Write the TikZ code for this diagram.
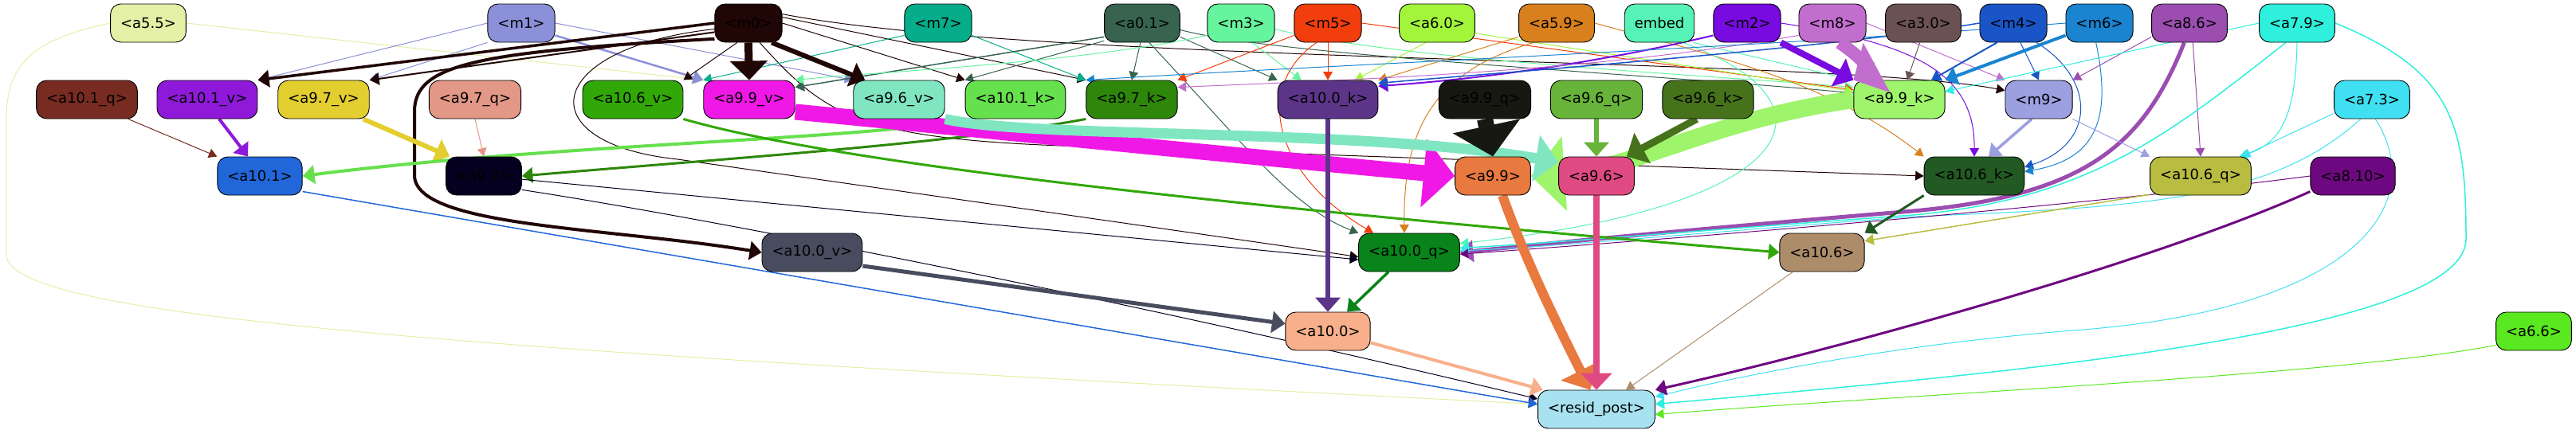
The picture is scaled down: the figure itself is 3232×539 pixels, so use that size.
\documentclass[tikz,border=0pt]{standalone}
\usepackage{fontspec}
\setmainfont{DejaVu Sans}
\usetikzlibrary{arrows.meta}
\pgfdeclarelayer{bg}
\pgfsetlayers{bg,main}
\definecolor{cA55}{HTML}{E3F0A5}
\definecolor{cM1}{HTML}{8C90D8}
\definecolor{cM0}{HTML}{200604}
\definecolor{cM7}{HTML}{06AD8A}
\definecolor{cA01}{HTML}{37634F}
\definecolor{cM3}{HTML}{66F59E}
\definecolor{cM5}{HTML}{F23D0D}
\definecolor{cA60}{HTML}{A3F53C}
\definecolor{cA59}{HTML}{D9801E}
\definecolor{cEmbed}{HTML}{57F2B5}
\definecolor{cM2}{HTML}{770BE0}
\definecolor{cM8}{HTML}{C26ECF}
\definecolor{cA30}{HTML}{6B5252}
\definecolor{cM4}{HTML}{1A55C7}
\definecolor{cM6}{HTML}{1A84D1}
\definecolor{cA86}{HTML}{9B4DB0}
\definecolor{cA79}{HTML}{2EF0DC}
\definecolor{cA101q}{HTML}{772B21}
\definecolor{cA101v}{HTML}{8F19D9}
\definecolor{cA97v}{HTML}{E3CE30}
\definecolor{cA97q}{HTML}{E29787}
\definecolor{cA106v}{HTML}{31A808}
\definecolor{cA99v}{HTML}{F018E6}
\definecolor{cA96v}{HTML}{80E6C2}
\definecolor{cA101k}{HTML}{66E04D}
\definecolor{cA97k}{HTML}{2E870A}
\definecolor{cA100k}{HTML}{5C3589}
\definecolor{cA99q}{HTML}{171811}
\definecolor{cA96q}{HTML}{68B43A}
\definecolor{cA96k}{HTML}{46721B}
\definecolor{cA99k}{HTML}{9EF46B}
\definecolor{cM9}{HTML}{9C9FE0}
\definecolor{cA73}{HTML}{40E0F2}
\definecolor{cA101}{HTML}{2167D9}
\definecolor{cA97}{HTML}{060020}
\definecolor{cA99}{HTML}{E8793F}
\definecolor{cA96}{HTML}{E04A82}
\definecolor{cA106k}{HTML}{235A24}
\definecolor{cA106q}{HTML}{B8BC40}
\definecolor{cA810}{HTML}{6E0880}
\definecolor{cA100v}{HTML}{484C5E}
\definecolor{cA100q}{HTML}{08841A}
\definecolor{cA106}{HTML}{AD8C6A}
\definecolor{cA100}{HTML}{F8B08C}
\definecolor{cA66}{HTML}{5AE820}
\definecolor{cResid}{HTML}{A8E2F0}
\tikzset{
  nd/.style={draw=black, line width=0.9pt, rounded corners=13pt, minimum height=48pt,
    inner xsep=12.5pt, inner ysep=0pt, text=black, font=\fontsize{18pt}{20pt}\selectfont},
  ed/.style={line width=#1, -{Triangle[length=9pt 1.5,width=8pt 3.8]}}
}
\begin{document}
\begin{tikzpicture}[x=1pt,y=-1pt]
\useasboundingbox (0,0) rectangle (3232,539);
% nodes
\node[nd,fill=cA55] (a55) at (186,29) {<a5.5>};
\node[nd,fill=cM1] (m1) at (654,29) {<m1>};
\node[nd,fill=cM0] (m0) at (939,29) {<m0>};
\node[nd,fill=cM7] (m7) at (1177,29) {<m7>};
\node[nd,fill=cA01] (a01) at (1433,29) {<a0.1>};
\node[nd,fill=cM3] (m3) at (1557,29) {<m3>};
\node[nd,fill=cM5] (m5) at (1666,29) {<m5>};
\node[nd,fill=cA60] (a60) at (1803,29) {<a6.0>};
\node[nd,fill=cA59] (a59) at (1953,29) {<a5.9>};
\node[nd,fill=cEmbed] (embed) at (2082,29) {embed};
\node[nd,fill=cM2] (m2) at (2192,29) {<m2>};
\node[nd,fill=cM8] (m8) at (2299,29) {<m8>};
\node[nd,fill=cA30] (a30) at (2413,29) {<a3.0>};
\node[nd,fill=cM4] (m4) at (2526,29) {<m4>};
\node[nd,fill=cM6] (m6) at (2634,29) {<m6>};
\node[nd,fill=cA86] (a86) at (2747,29) {<a8.6>};
\node[nd,fill=cA79] (a79) at (2882,29) {<a7.9>};
\node[nd,fill=cA101q] (a101q) at (109,125) {<a10.1\_q>};
\node[nd,fill=cA101v] (a101v) at (260,125) {<a10.1\_v>};
\node[nd,fill=cA97v] (a97v) at (406,125) {<a9.7\_v>};
\node[nd,fill=cA97q] (a97q) at (596,125) {<a9.7\_q>};
\node[nd,fill=cA106v] (a106v) at (794,125) {<a10.6\_v>};
\node[nd,fill=cA99v] (a99v) at (940,125) {<a9.9\_v>};
\node[nd,fill=cA96v] (a96v) at (1128,125) {<a9.6\_v>};
\node[nd,fill=cA101k] (a101k) at (1274,125) {<a10.1\_k>};
\node[nd,fill=cA97k] (a97k) at (1420,125) {<a9.7\_k>};
\node[nd,fill=cA100k] (a100k) at (1666,125) {<a10.0\_k>};
\node[nd,fill=cA99q] (a99q) at (1863,125) {<a9.9\_q>};
\node[nd,fill=cA96q] (a96q) at (2003,125) {<a9.6\_q>};
\node[nd,fill=cA96k] (a96k) at (2143,125) {<a9.6\_k>};
\node[nd,fill=cA99k] (a99k) at (2383,125) {<a9.9\_k>};
\node[nd,fill=cM9] (m9) at (2558,125) {<m9>};
\node[nd,fill=cA73] (a73) at (2976,125) {<a7.3>};
\node[nd,fill=cA101] (a101) at (326,221) {<a10.1>};
\node[nd,fill=cA97] (a97) at (607,221) {<a9.7>};
\node[nd,fill=cA99] (a99) at (1873,221) {<a9.9>};
\node[nd,fill=cA96] (a96) at (2003,221) {<a9.6>};
\node[nd,fill=cA106k] (a106k) at (2477,221) {<a10.6\_k>};
\node[nd,fill=cA106q] (a106q) at (2761,221) {<a10.6\_q>};
\node[nd,fill=cA810] (a810) at (2952,221) {<a8.10>};
\node[nd,fill=cA100v] (a100v) at (1019,317) {<a10.0\_v>};
\node[nd,fill=cA100q] (a100q) at (1768,317) {<a10.0\_q>};
\node[nd,fill=cA106] (a106) at (2286,317) {<a10.6>};
\node[nd,fill=cA100] (a100) at (1666,416) {<a10.0>};
\node[nd,fill=cA66] (a66) at (3179,416) {<a6.6>};
\node[nd,fill=cResid] (resid) at (2003,514) {<resid\_post>};
% edges behind the nodes
\begin{pgfonlayer}{bg}
\draw[ed=1,draw=cA55] (a55.west) .. controls (40,50) and (8,80) .. (8,150) -- (8,320) .. controls (8,400) and (600,440) .. (resid.175);
\draw[ed=1,draw=cA55] (a55.east) -- (a99v.north west);
\draw[ed=1,draw=cM1] (m1.west) -- (a101v.north east);
\draw[ed=1,draw=cM1] (m1.south west) -- (a97v.north east);
\draw[ed=2.5,draw=cM1] (m1.340) -- (a99v.north west);
\draw[ed=1,draw=cM1] (m1.east) -- (a96v.north west);
\draw[ed=3.5,draw=cM0] (m0.west) -- (a101v.north east);
\draw[ed=2,draw=cM0] (m0.195) -- (a97v.north east);
\draw[ed=4,draw=cM0] (m0.205) .. controls (600,65) and (520,80) .. (520,140) -- (520,220) .. controls (520,285) and (760,285) .. (a100v.west);
\draw[ed=1,draw=cM0] (m0.240) -- (a106v.north east);
\draw[ed=1,draw=cM0] (m0.east) -- (a101k.north west);
\draw[ed=1,draw=cM0] (m0.10) -- (a97k.north west);
\draw[ed=1,draw=cM0] (m0.15) .. controls (1300,80) and (2300,72) .. (m9.165);
\draw[ed=1,draw=cM0] (m0.300) .. controls (1040,150) and (1080,178) .. (1400,185) -- (a106k.west);
\draw[ed=1,draw=cM0] (m0.190) .. controls (680,60) and (660,180) .. (850,200) .. controls (1200,250) and (1550,300) .. (a100q.185);
\draw[ed=1,draw=cM7] (m7.200) -- (a99v.north west);
\draw[ed=1,draw=cM7] (m7.340) -- (a97k.north west);
\draw[ed=1.5,draw=cA01] (a01.200) -- (a99v.15);
\draw[ed=1,draw=cA01] (a01.205) -- (a101k.north west);
\draw[ed=1,draw=cA01] (a01.265) -- (a97k.north);
\draw[ed=1,draw=cA01] (a01.340) -- (a100k.north west);
\draw[ed=1,draw=cA01] (a01.350) .. controls (1600,70) and (2100,95) .. (a99k.172);
\draw[ed=1,draw=cA01] (a01.290) .. controls (1560,180) and (1620,260) .. (a100q.north west);
\draw[ed=1,draw=cM3] (m3.200) .. controls (1350,80) and (1100,90) .. (a99v.north east);
\draw[ed=1,draw=cM3] (m3.300) -- ([xshift=30pt]a100k.north west);
\draw[ed=1,draw=cM3] (m3.350) .. controls (1750,75) and (2150,95) .. (a99k.165);
\draw[ed=1,draw=cM5] (m5.south) -- (a100k.north);
\draw[ed=1,draw=cM5] (m5.200) -- (a97k.north east);
\draw[ed=1,draw=cM5] (m5.240) .. controls (1570,110) and (1600,220) .. ([xshift=-45pt]a100q.north);
\draw[ed=1,draw=cM5] (m5.east) -- (a99k.168);
\draw[ed=1,draw=cA60] (a60.240) -- ([xshift=34pt]a100k.north);
\draw[ed=1,draw=cA60] (a60.345) -- (a99k.170);
\draw[ed=1,draw=cA59] (a59.200) -- (a100k.north east);
\draw[ed=1,draw=cA59] (a59.220) .. controls (1800,90) and (1760,160) .. ([xshift=-6pt]a100q.north);
\draw[ed=1,draw=cA59] (a59.east) .. controls (2150,70) and (2290,100) .. (a106k.north west);
\draw[ed=1,draw=cEmbed] (embed.330) -- (a99k.north west);
\draw[ed=1,draw=cEmbed] (embed.320) .. controls (2320,130) and (2260,260) .. (a100q.10);
\draw[ed=2,draw=cM2] (m2.200) .. controls (2000,80) and (1850,100) .. (a100k.15);
\draw[ed=1,draw=cM2] (m2.east) .. controls (2400,55) and (2478,90) .. (a106k.north);
\draw[ed=1,draw=cM8] (m8.200) .. controls (2000,90) and (1700,100) .. (a97k.15);
\draw[ed=1,draw=cM8] (m8.east) -- (m9.north west);
\draw[ed=1,draw=cA30] (a30.260) -- ([xshift=10pt]a99k.north);
\draw[ed=2,draw=cM4] (m4.230) -- ([xshift=40pt]a99k.north);
\draw[ed=1,draw=cM4] (m4.290) -- (m9.north);
\draw[ed=1,draw=cM4] (m4.320) .. controls (2630,100) and (2630,180) .. (a106k.10);
\draw[ed=1.5,draw=cM4] (m4.west) .. controls (2300,60) and (1900,90) .. (a100k.18);
\draw[ed=4,draw=cM6] (m6.200) -- (a99k.north east);
\draw[ed=1,draw=cM6] (m6.260) .. controls (2650,150) and (2630,200) .. (a106k.5);
\draw[ed=1,draw=cM6] (m6.west) .. controls (2200,60) and (1700,80) .. (a97k.north west);
\draw[ed=1,draw=cA86] (a86.200) -- (m9.north east);
\draw[ed=1,draw=cA86] (a86.280) -- (a106q.north);
\draw[ed=5,draw=cA86] (a86.255) .. controls (2690,180) and (2620,245) .. (2400,265) .. controls (2100,290) and (1950,305) .. (a100q.east);
\draw[ed=1,draw=cA79] (a79.west) -- (a99k.10);
\draw[ed=1,draw=cA79] (a79.270) .. controls (2880,150) and (2860,180) .. ([xshift=-15pt]a106q.north east);
\draw[ed=1.5,draw=cA79] (a79.240) .. controls (2720,170) and (2620,250) .. (2400,270) .. controls (2100,292) and (1950,305) .. (a100q.5);
\draw[ed=1.5,draw=cA79] (a79.east) .. controls (3080,90) and (3094,160) .. (3094,300) .. controls (3094,420) and (2500,470) .. (resid.5);
\draw[ed=1,draw=cA73] (a73.200) -- ([xshift=-12pt]a106q.north east);
\draw[ed=1,draw=cA73] (a73.240) .. controls (2850,250) and (2700,260) .. (2400,272) .. controls (2100,295) and (1950,310) .. (a100q.2);
\draw[ed=1,draw=cA73] (a73.280) .. controls (3050,260) and (2950,390) .. (2600,415) .. controls (2350,435) and (2150,480) .. (resid.12);
\draw[ed=3,draw=cA810] (a810.200) .. controls (2700,330) and (2300,440) .. (resid.north east);
\draw[ed=1,draw=cA810] (a810.west) .. controls (2600,260) and (2100,300) .. (a100q.358);
\draw[ed=1,draw=cA66] (a66.200) .. controls (2950,470) and (2400,495) .. (resid.355);
\draw[ed=1,draw=cA101q] ([xshift=-12pt]a101q.south east) -- (a101.north west);
\draw[ed=4,draw=cA101v] ([xshift=15pt]a101v.south) -- ([xshift=-15pt]a101.north);
\draw[ed=6,draw=cA97v] ([xshift=-8pt]a97v.south east) -- ([xshift=5pt]a97.north west);
\draw[ed=1,draw=cA97q] (a97q.south) -- (a97.north);
\draw[ed=4,draw=cA101k] (a101k.south west) .. controls (1100,175) and (700,180) .. (a101.east);
\draw[ed=3,draw=cA97k] (a97k.south west) .. controls (1200,180) and (900,200) .. (a97.east);
\draw[ed=3,draw=cA106v] (a106v.south east) .. controls (1100,220) and (1800,280) .. (a106.west);
\draw[ed=1,draw=cA97] (a97.340) .. controls (800,260) and (1300,350) .. (resid.170);
\draw[ed=1,draw=cA97] (a97.355) -- (a100q.188);
\draw[ed=1.5,draw=cA101] (a101.340) -- (resid.175);
\draw[ed=5,draw=cA100v] (a100v.345) -- (a100.170);
\draw[ed=22,draw=cA99k] (a99k.west) .. controls (2150,150) and (2050,212) .. (a99.east);
\draw[ed=20,draw=cA99v] (a99v.345) .. controls (1300,170) and (1600,200) .. (a99.west);
\draw[ed=13,draw=cA96v] (a96v.south east) .. controls (1300,175) and (1700,160) .. (a96.160);
\draw[ed=6,draw=cA96q] (a96q.south) -- (a96.north);
\draw[ed=9,draw=cA96k] (a96k.240) -- ([xshift=-10pt]a96.north east);
\draw[ed=12,draw=cA99] ([xshift=12pt]a99.south) .. controls (1915,330) and (1960,420) .. ([xshift=-8pt]resid.north);
\draw[ed=8,draw=cA96] (a96.south) -- (resid.north);
\draw[ed=6,draw=cA100k] (a100k.south) -- (a100.north);
\draw[ed=3.5,draw=cA100q] ([xshift=-26pt]a100q.south) -- ([xshift=24pt]a100.north);
\draw[ed=4,draw=cA100] (a100.345) -- (resid.160);
\draw[ed=3.5,draw=cM9] (m9.250) -- ([xshift=18pt]a106k.north);
\draw[ed=1,draw=cM9] (m9.330) -- (a106q.north west);
\draw[ed=3,draw=cA106k] (a106k.south west) -- (a106.north east);
\draw[ed=1.5,draw=cA106q] (a106q.200) -- (a106.15);
\draw[ed=1,draw=cA106] ([xshift=17pt]a106.south west) -- ([xshift=37pt]resid.north);
\end{pgfonlayer}
% thick edges drawn over the nodes
\draw[ed=10,draw=cM0] (m0.south) -- (a99v.north);
\draw[ed=6,draw=cM0] (m0.320) -- ([xshift=15pt]a96v.north west);
\draw[ed=8,draw=cM2] (m2.330) -- (a99k.north west);
\draw[ed=16,draw=cM8] (m8.290) .. controls (2340,75) and (2345,90) .. (a99k.north west);
\draw[ed=20,draw=cA99q] (a99q.south) -- (a99.north);
\end{tikzpicture}
\end{document}
